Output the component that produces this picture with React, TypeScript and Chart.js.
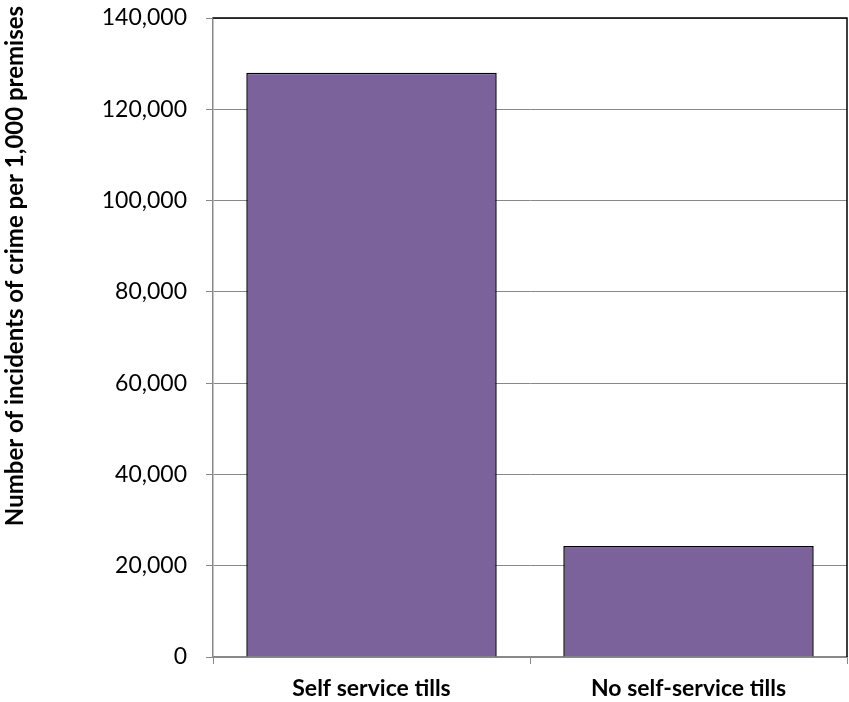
import React, { useEffect, useRef } from "react";
import { Chart, registerables } from "chart.js";

Chart.register(...registerables);

const categories = ["Self service tills", "No self-service tills"];
const incidents = [128000, 24300];
const yTicksMax = 140000;
const yTickStep = 20000;
const yTitle = "Number of incidents of crime per 1,000 premises";

const FONT = "Lato, 'Open Sans', sans-serif";

const frame = {
  id: "frame",
  afterDatasetsDraw(chart: any) {
    const { ctx, chartArea } = chart;
    ctx.save();
    ctx.strokeStyle = "#000";
    ctx.lineWidth = 1.5;
    ctx.beginPath();
    ctx.moveTo(chartArea.left, chartArea.top);
    ctx.lineTo(chartArea.right, chartArea.top);
    ctx.lineTo(chartArea.right, chartArea.bottom);
    ctx.stroke();
    ctx.restore();
  },
};

const titlePlugin = {
  id: "ytitle",
  afterDraw(chart: any) {
    const { ctx } = chart;
    ctx.save();
    ctx.translate(15, 266);
    ctx.rotate(-Math.PI / 2);
    ctx.font = `bold 20px ${FONT}`;
    const w = ctx.measureText(yTitle).width;
    const size = Math.min(24, (20 * 525) / w);
    ctx.font = `bold ${size}px ${FONT}`;
    ctx.fillStyle = "#000";
    ctx.textAlign = "center";
    ctx.textBaseline = "middle";
    ctx.fillText(yTitle, 0, 0);
    ctx.restore();
  },
};

export default function App() {
  const ref = useRef<HTMLCanvasElement>(null);
  useEffect(() => {
    document.body.style.margin = "0";
    const chart = new Chart(ref.current!, {
      type: "bar",
      data: {
        labels: categories,
        datasets: [
          {
            data: incidents,
            backgroundColor: "#7B629A",
            borderColor: "#000",
            borderWidth: 1.5,
            barPercentage: 0.79,
            categoryPercentage: 1,
          },
        ],
      },
      options: {
        animation: false,
        responsive: false,
        layout: { padding: { top: 18, right: 2, bottom: 0, left: 0 } },
        plugins: { legend: { display: false }, tooltip: { enabled: false } },
        scales: {
          x: {
            offset: true,
            grid: {
              offset: true,
              drawOnChartArea: false,
              drawTicks: true,
              tickLength: 7,
              color: "#888",
            },
            border: { color: "#888", width: 1.5 },
            ticks: {
              padding: 11,
              color: "#000",
              font: { family: FONT, size: 23, weight: "bold" },
            },
            afterFit: (axis: any) => {
              axis.height = 45;
              axis.paddingLeft = 0;
              axis.paddingRight = 0;
            },
          },
          y: {
            min: 0,
            max: yTicksMax,
            ticks: {
              stepSize: yTickStep,
              color: "#000",
              padding: 19,
              font: { family: FONT, size: 23 },
              callback: (v: any) => Number(v).toLocaleString("en-US"),
            },
            grid: { color: "#888", lineWidth: 1, tickLength: 7 },
            border: { color: "#888", width: 1.5 },
            title: { display: false },
            afterFit: (axis: any) => {
              axis.width = 213;
              axis.paddingTop = 0;
              axis.paddingBottom = 0;
            },
          },
        },
      },
      plugins: [frame, titlePlugin],
    });
    return () => chart.destroy();
  }, []);
  return <canvas ref={ref} width={849} height={702} style={{ display: "block" }} />;
}
